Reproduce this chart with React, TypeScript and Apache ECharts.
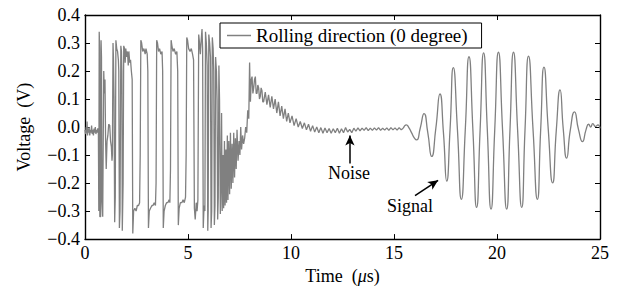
import { useEffect, useRef } from "react";
import * as echarts from "echarts";

// Time (µs) / Voltage (V) pairs, by section
const initialNoise: [number, number][] = [
  [0, -0.01], [0.03, -0.025], [0.06, 0.0], [0.08, -0.02], [0.1, 0.02], [0.12, -0.03], [0.15, -0.005],
  [0.18, -0.02], [0.2, 0.0], [0.23, -0.03], [0.26, -0.01], [0.29, -0.02], [0.32, 0.005], [0.35, -0.025],
  [0.38, -0.01], [0.41, -0.03], [0.44, -0.005], [0.47, -0.02], [0.5, 0.0], [0.53, -0.025], [0.56, -0.01],
  [0.59, -0.02], [0.62, -0.005], [0.65, -0.02],
];

const saturatedBurst: [number, number][] = [
  [0.66, -0.02], [0.67, -0.3], [0.69, 0.34], [0.71, 0.28], [0.72, -0.32], [0.76, -0.32], [0.78, 0.31],
  [0.8, 0.25], [0.82, -0.26], [0.86, -0.32], [0.88, -0.1], [0.91, 0.2], [0.94, 0.12], [0.97, 0.17],
  [1.0, -0.05], [1.03, -0.15], [1.07, -0.05], [1.11, -0.03], [1.15, 0.01], [1.2, 0.006], [1.24, -0.05],
  [1.28, -0.07], [1.31, -0.12], [1.33, -0.1], [1.36, 0.3], [1.38, 0.25], [1.41, 0.1], [1.44, -0.34],
  [1.47, -0.25], [1.5, 0.31], [1.54, 0.28], [1.58, 0.27], [1.62, 0.24], [1.64, 0.2], [1.67, -0.36],
  [1.7, -0.3], [1.74, 0.29], [1.77, 0.27], [1.79, 0.2], [1.81, -0.37], [1.85, -0.2], [1.88, 0.29],
  [1.92, 0.28], [1.95, 0.23], [1.98, 0.28], [2.02, 0.25], [2.06, 0.27], [2.1, 0.22], [2.13, 0.27],
  [2.17, 0.23], [2.21, 0.24], [2.25, 0.2], [2.29, 0.17], [2.32, -0.38], [2.36, -0.3], [2.42, -0.29],
  [2.48, -0.3], [2.54, -0.28], [2.6, -0.28], [2.65, -0.27], [2.68, -0.1], [2.71, 0.31], [2.75, 0.3],
  [2.8, 0.27], [2.86, 0.28], [2.92, 0.26], [2.96, 0.28], [3.02, 0.26], [3.05, 0.2], [3.08, -0.36],
  [3.12, -0.3], [3.18, -0.29], [3.25, -0.28], [3.3, -0.28], [3.36, -0.27], [3.42, -0.28], [3.45, -0.2],
  [3.48, 0.31], [3.52, 0.3], [3.57, 0.27], [3.62, 0.28], [3.68, 0.26], [3.74, 0.27], [3.77, 0.2],
  [3.8, -0.36], [3.84, -0.3], [3.9, -0.28], [3.96, -0.27], [4.02, -0.27], [4.08, -0.26], [4.12, -0.27],
  [4.15, -0.15], [4.18, 0.31], [4.22, 0.29], [4.27, 0.27], [4.33, 0.28], [4.4, 0.26], [4.46, 0.27],
  [4.5, 0.2], [4.53, -0.35], [4.57, -0.29], [4.63, -0.27], [4.7, -0.27], [4.76, -0.26], [4.82, -0.27],
  [4.88, -0.25], [4.91, -0.1], [4.94, 0.32], [4.98, 0.31], [5.03, 0.28], [5.1, 0.27], [5.16, 0.28],
  [5.22, 0.26], [5.27, 0.24], [5.31, -0.29], [5.35, -0.33], [5.4, -0.27], [5.44, -0.3], [5.48, -0.26],
  [5.52, 0.33], [5.56, 0.3], [5.6, 0.26], [5.64, 0.31], [5.68, 0.35], [5.71, 0.28], [5.74, -0.36],
  [5.78, -0.28], [5.82, -0.3], [5.85, 0.34], [5.89, 0.3], [5.93, 0.22], [5.96, -0.37], [5.98, -0.3],
  [6.01, 0.33], [6.05, 0.3], [6.09, 0.25], [6.12, -0.36], [6.15, -0.3], [6.18, 0.32], [6.22, 0.28],
  [6.25, 0.2], [6.28, -0.35], [6.31, -0.28], [6.34, 0.25], [6.38, 0.2], [6.41, 0.1], [6.44, -0.33],
  [6.47, -0.25], [6.5, 0.22], [6.53, 0.1], [6.57, -0.31], [6.6, -0.2],
];

const recovery: [number, number][] = [
  [6.63, 0.05], [6.66, -0.3], [6.7, -0.1], [6.73, -0.29], [6.77, -0.05], [6.8, -0.28], [6.84, -0.08],
  [6.87, -0.27], [6.91, -0.03], [6.94, -0.26], [6.98, -0.05], [7.02, -0.24], [7.06, -0.02], [7.1, -0.22],
  [7.14, -0.06], [7.18, -0.2], [7.22, -0.02], [7.26, -0.18], [7.3, -0.04], [7.34, -0.15], [7.38, -0.01],
  [7.43, -0.12], [7.48, -0.05], [7.52, -0.1], [7.56, 0.0], [7.6, -0.08], [7.65, -0.03], [7.7, -0.06],
  [7.75, -0.04], [7.8, 0.0], [7.85, -0.02], [7.9, 0.06], [7.95, 0.03], [7.99, 0.23], [8.03, 0.09],
  [8.07, 0.17], [8.11, 0.18], [8.15, 0.12], [8.19, 0.14], [8.23, 0.17], [8.27, 0.18], [8.31, 0.12],
  [8.35, 0.12], [8.39, 0.15], [8.43, 0.14], [8.47, 0.1], [8.51, 0.11], [8.55, 0.14], [8.59, 0.13],
  [8.63, 0.09], [8.67, 0.09], [8.75, 0.125], [8.83, 0.08], [8.91, 0.115], [8.99, 0.07], [9.07, 0.11],
  [9.15, 0.065], [9.23, 0.1], [9.31, 0.05], [9.39, 0.09], [9.47, 0.04], [9.55, 0.075], [9.63, 0.03],
  [9.71, 0.065], [9.79, 0.02], [9.87, 0.05], [9.95, 0.015], [10.05, 0.04], [10.15, 0.005], [10.25, 0.03],
  [10.35, 0.0], [10.45, 0.02], [10.55, -0.005], [10.65, 0.015], [10.75, -0.01], [10.85, 0.01],
  [10.95, -0.015], [11.05, 0.005], [11.15, -0.018], [11.25, 0.0], [11.35, -0.02], [11.45, -0.002],
  [11.55, -0.022], [11.65, -0.003], [11.75, -0.02], [11.85, -0.005], [11.95, -0.022], [12.05, -0.006],
];

const noiseFloor: [number, number][] = [
  [12.15, -0.02], [12.25, -0.004], [12.35, -0.022], [12.45, -0.006], [12.55, -0.02], [12.65, -0.002],
  [12.75, -0.018], [12.85, -0.008], [12.95, -0.02], [13.05, -0.004], [13.15, -0.015], [13.25, -0.003],
  [13.35, -0.014], [13.45, -0.004], [13.55, -0.012], [13.65, -0.002], [13.75, -0.013], [13.85, -0.004],
  [13.95, -0.012], [14.05, -0.003], [14.15, -0.011], [14.25, -0.002], [14.35, -0.012], [14.45, -0.004],
  [14.55, -0.011], [14.65, -0.003], [14.75, -0.012], [14.85, -0.002], [14.95, -0.01], [15.05, -0.003],
  [15.15, -0.011], [15.25, -0.002], [15.35, -0.01], [15.45, -0.004],
];

const signalPacket: [number, number][] = [
  [15.45, -0.004], [15.6, 0.008], [15.72, -0.002], [15.85, -0.02], [16.0, -0.04], [16.1, -0.046],
  [16.27, -0.005], [16.46, 0.048], [16.64, -0.02], [16.83, -0.105], [17.03, -0.005], [17.23, 0.118],
  [17.4, -0.02], [17.56, -0.193], [17.72, -0.01], [17.88, 0.212], [18.08, -0.01], [18.27, -0.258],
  [18.46, -0.01], [18.64, 0.251], [18.83, -0.01], [19.01, -0.287], [19.18, -0.01], [19.35, 0.265],
  [19.53, -0.01], [19.71, -0.293], [19.89, -0.01], [20.07, 0.267], [20.27, -0.01], [20.47, -0.293],
  [20.63, -0.01], [20.8, 0.267], [21.0, -0.01], [21.2, -0.287], [21.36, -0.01], [21.53, 0.253],
  [21.75, -0.01], [21.96, -0.258], [22.12, -0.01], [22.28, 0.214], [22.49, -0.01], [22.7, -0.199],
  [22.88, -0.01], [23.06, 0.133], [23.22, -0.01], [23.38, -0.111], [23.56, -0.01], [23.76, 0.054],
  [23.96, -0.01], [24.15, -0.052], [24.32, -0.01], [24.45, 0.01], [24.55, 0.0], [24.65, 0.012],
  [24.78, 0.002], [24.9, 0.008], [25.0, -0.005],
];

const seriesName = "Rolling direction (0 degree)";
// annotation arrows: [tail, head] in data coordinates
const noiseArrow: [number, number][] = [[12.86, -0.13], [12.86, -0.03]];
const signalArrow: [number, number][] = [[16.02, -0.245], [17.14, -0.19]];
const noiseLabel: [number, number] = [12.82, -0.165];
const signalLabel: [number, number] = [15.78, -0.283];

export default function App() {
  const ref = useRef<HTMLDivElement>(null);
  useEffect(() => {
    const chart = echarts.init(ref.current!, null, { renderer: "svg" });
    const font = "Liberation Serif";
    const fmtY = (v: number) => {
      const s = Math.abs(v).toFixed(1);
      return v < -1e-9 ? "\u2212" + s : s;
    };
    const axisLine = { onZero: false, lineStyle: { color: "#000", width: 1.4 } };
    const axisTick = { inside: true, length: 5, lineStyle: { color: "#000", width: 1 } };
    const labelStyle = { color: "#000", fontSize: 18, fontFamily: font };
    const lineStyle = { color: "#808080", width: 1.3 };
    const textPoint = (name: string, coord: [number, number]) => ({
      name,
      coord,
      symbol: "rect",
      symbolSize: [1, 1],
      itemStyle: { color: "rgba(0,0,0,0)" },
      label: { show: true, position: "inside", formatter: name, ...labelStyle },
    });
    const arrow = (a: [number, number][]) => [
      { coord: a[0], symbol: "none" },
      { coord: a[1], symbol: "arrow", symbolSize: [7, 10] },
    ];
    chart.setOption({
      animation: false,
      grid: { left: 85, right: 18, top: 15, bottom: 48 },
      legend: {
        data: [{ name: seriesName, icon: "rect" }],
        left: 220,
        top: 23,
        padding: [3, 14, 3, 7],
        borderColor: "#000",
        borderWidth: 1,
        itemWidth: 24,
        itemHeight: 1.5,
        textStyle: { color: "#000", fontSize: 19, fontFamily: font },
      },
      xAxis: [
        {
          type: "value",
          min: 0,
          max: 25,
          interval: 5,
          position: "bottom",
          axisLine,
          axisTick,
          axisLabel: { ...labelStyle, margin: 5 },
          splitLine: { show: false },
          name: "Time\u2002({i|\u03bc}s)",
          nameLocation: "middle",
          nameGap: 26,
          nameTextStyle: {
            ...labelStyle,
            rich: { i: { fontStyle: "italic", fontSize: 18, fontFamily: font, color: "#000" } },
          },
        },
        {
          type: "value",
          min: 0,
          max: 25,
          interval: 5,
          position: "top",
          axisLine,
          axisTick,
          axisLabel: { show: false },
          splitLine: { show: false },
        },
      ],
      yAxis: [
        {
          type: "value",
          min: -0.4,
          max: 0.4,
          interval: 0.1,
          position: "left",
          axisLine,
          axisTick,
          axisLabel: { ...labelStyle, margin: 5, formatter: fmtY },
          splitLine: { show: false },
          name: "Voltage\u2002(V)",
          nameLocation: "middle",
          nameGap: 52,
          nameTextStyle: labelStyle,
        },
        {
          type: "value",
          min: -0.4,
          max: 0.4,
          interval: 0.1,
          position: "right",
          axisLine,
          axisTick,
          axisLabel: { show: false },
          splitLine: { show: false },
        },
      ],
      series: [
        {
          name: seriesName,
          type: "line",
          symbol: "none",
          lineStyle,
          itemStyle: { color: lineStyle.color },
          data: [...initialNoise, ...saturatedBurst, ...recovery, ...noiseFloor],
          markLine: {
            silent: true,
            animation: false,
            label: { show: false },
            lineStyle: { color: "#000", width: 1.5, type: "solid" },
            data: [arrow(noiseArrow), arrow(signalArrow)],
          },
          markPoint: {
            silent: true,
            animation: false,
            data: [textPoint("Noise", noiseLabel), textPoint("Signal", signalLabel)],
          },
        },
        {
          name: seriesName,
          type: "line",
          symbol: "none",
          smooth: 0.6,
          lineStyle,
          itemStyle: { color: lineStyle.color },
          data: signalPacket,
        },
      ],
    });
    return () => chart.dispose();
  }, []);
  return <div ref={ref} style={{ position: "absolute", left: 0, top: 0, width: 618, height: 290 }} />;
}
